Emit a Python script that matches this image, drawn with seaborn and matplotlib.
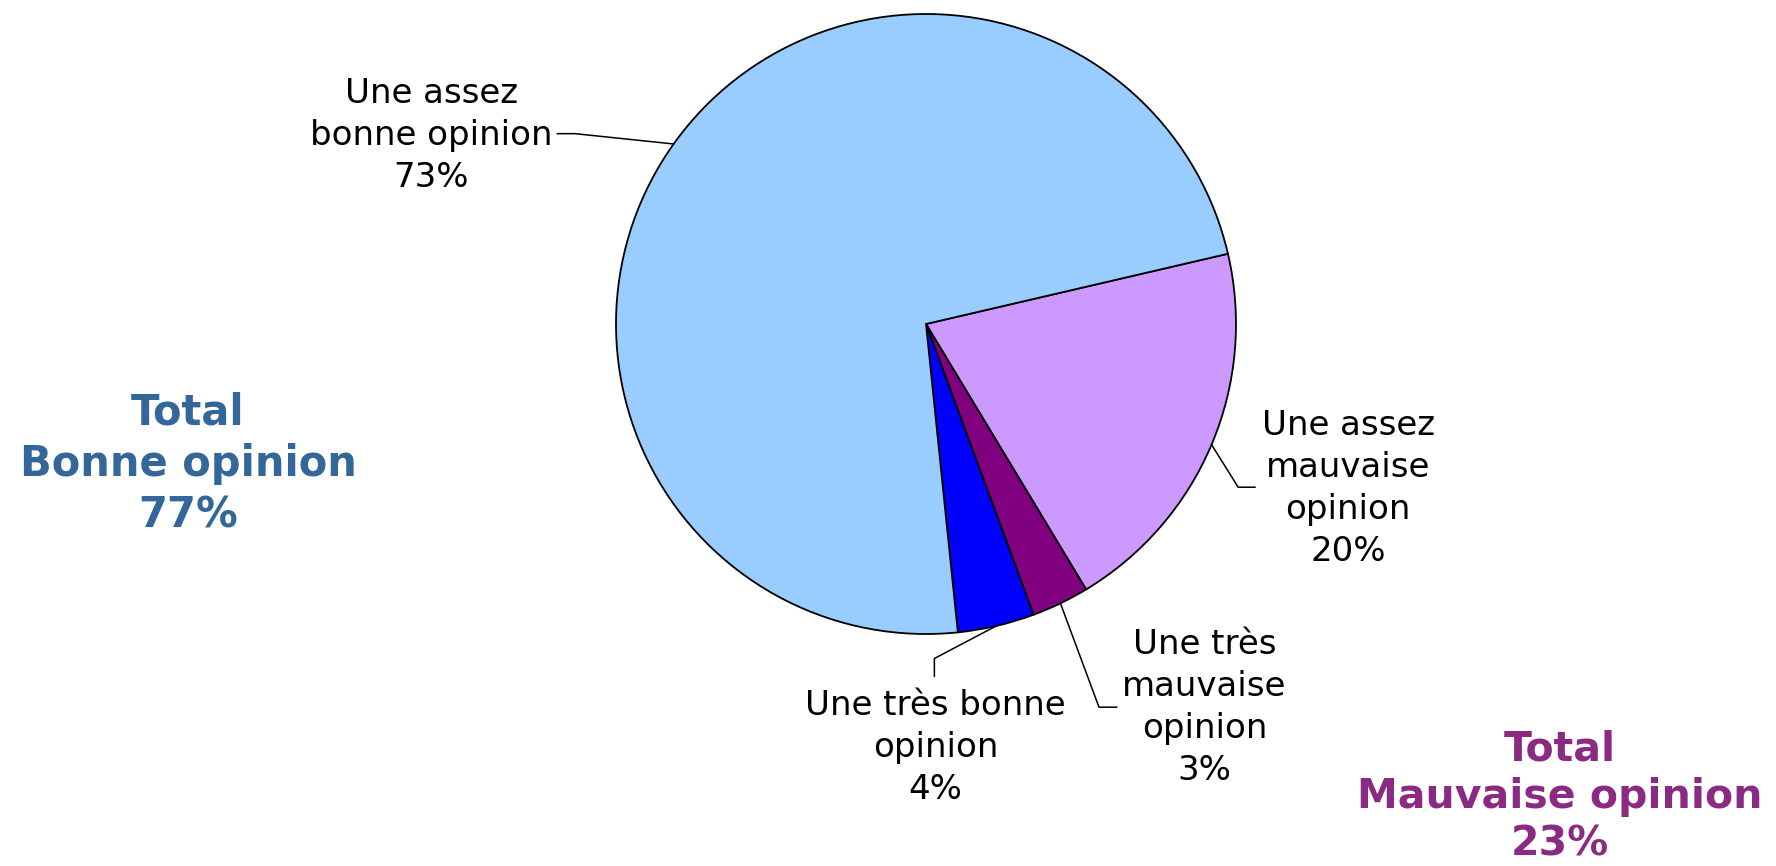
import numpy as np
import matplotlib
matplotlib.use('Agg')
import matplotlib.pyplot as plt
import seaborn as sns

# slices, clockwise from the lilac one
labels = ['Une assez\nmauvaise\nopinion', 'Une très\nmauvaise\nopinion',
          'Une très bonne\nopinion', 'Une assez\nbonne opinion']
values = [20, 3, 4, 73]
colors = ['#CC99FF', '#800080', '#0000FF', '#99CCFF']

total_labels = ['Total\nBonne opinion\n77%', 'Total\nMauvaise opinion\n23%']
total_colors = ['#336699', '#8B2A82']

sns.set_style('white')
plt.rcParams['font.family'] = ['DejaVu Sans']

fig = plt.figure(figsize=(17.76, 8.66), dpi=100)
ax = fig.add_axes([926 / 1776 - 310 / 1776, 1 - 634 / 866, 620 / 1776, 620 / 866])

wedges, _ = ax.pie(values, colors=colors, startangle=13.1, counterclock=False,
                   wedgeprops=dict(edgecolor='black', linewidth=1.3))
ax.set_xlim(-1, 1)
ax.set_ylim(-1, 1)
ax.set_aspect('equal')
ax.axis('off')

# leader line elbow / end and text position (in pie radius units)
elbows = [(1.007, -0.5265), (0.558, -1.236), (0.027, -1.079), (-1.132, 0.614)]
ends = [(1.062, -0.5265), (0.616, -1.236), (0.027, -1.137), (-1.190, 0.614)]
text_pos = [(1.362, -0.530), (0.898, -1.238), (0.031, -1.367), (-1.596, 0.607)]

for w, lab, v, el, en, tp in zip(wedges, labels, values, elbows, ends, text_pos):
    ang = np.deg2rad((w.theta1 + w.theta2) / 2)
    sx, sy = np.cos(ang), np.sin(ang)
    ax.plot([sx, el[0], en[0]], [sy, el[1], en[1]], color='black', lw=1.1,
            clip_on=False)
    ax.text(tp[0], tp[1], f'{lab}\n{v}%', ha='center', va='center',
            fontsize=24.5, color='black', linespacing=1.35, clip_on=False)

fig.text(188 / 1776, 1 - 464 / 866, total_labels[0], ha='center', va='center',
         fontsize=30, fontweight='bold', color=total_colors[0], linespacing=1.28)
fig.text(1560 / 1776, 1 - 797 / 866, total_labels[1], ha='center', va='center',
         fontsize=29.5, fontweight='bold', color=total_colors[1], linespacing=1.25)

fig.savefig('out.png', dpi=100, facecolor='white')
